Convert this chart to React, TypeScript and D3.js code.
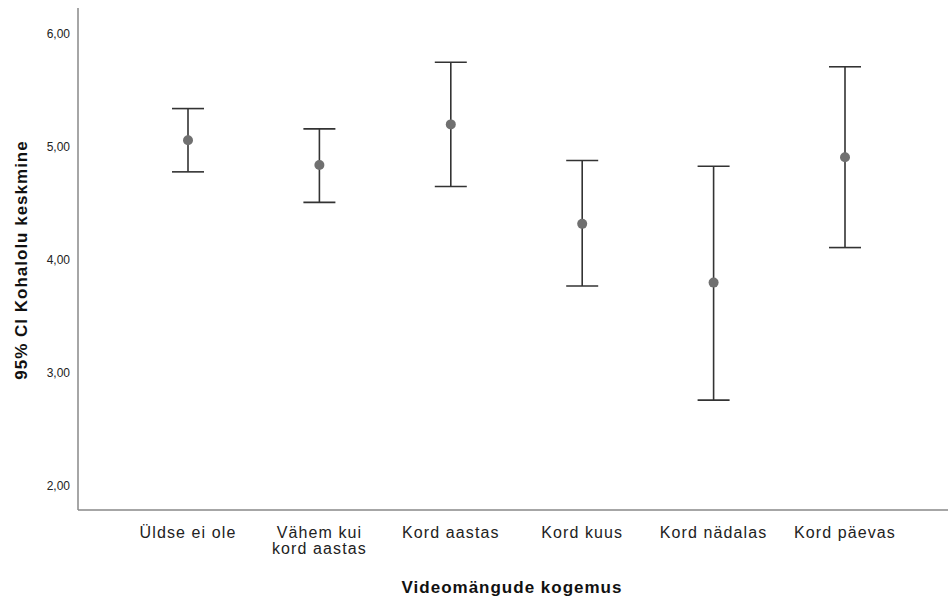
import React from 'react';
import * as d3 from 'd3';

const categories = ['Üldse ei ole', 'Vähem kui|kord aastas', 'Kord aastas', 'Kord kuus', 'Kord nädalas', 'Kord päevas'];
const means = [5.06, 4.84, 5.2, 4.32, 3.8, 4.91];
const upper = [5.34, 5.16, 5.75, 4.88, 4.83, 5.71];
const lower = [4.78, 4.51, 4.65, 3.77, 2.76, 4.11];
const yTicks = [2, 3, 4, 5, 6];

const width = 948;
const height = 603;
const axisX = 78;
const axisY = 510;

const App = () => {
  const x = d3.scalePoint<string>().domain(categories).range([188, 845]);
  const y = d3.scaleLinear().domain([2, 6]).range([486, 34]);
  const fmt = (v: number) => d3.format('.2f')(v).replace('.', ',');
  const cap = 16;

  return (
    <svg
      width={width}
      height={height}
      style={{ position: 'absolute', left: 0, top: 0, background: '#fff' }}
      fontFamily="'Liberation Sans', Arial, sans-serif"
    >
      {/* axes */}
      <line x1={axisX} x2={axisX} y1={8} y2={axisY} stroke="#888" strokeWidth={1.5} />
      <line x1={axisX} x2={width} y1={axisY} y2={axisY} stroke="#888" strokeWidth={1.5} />

      {yTicks.map(t => (
        <text key={t} x={70} y={y(t)} dy="0.35em" textAnchor="end" fontSize={12} fill="#222">
          {fmt(t)}
        </text>
      ))}

      {categories.map(c => (
        <text key={c} x={x(c)} y={538} textAnchor="middle" fontSize={16} letterSpacing={1.1} fill="#222">
          {c.split('|').map((line, i) => (
            <tspan key={i} x={x(c)} dy={i === 0 ? 0 : 16}>
              {line}
            </tspan>
          ))}
        </text>
      ))}

      {/* error bars */}
      {categories.map((c, i) => {
        const cx = x(c) as number;
        return (
          <g key={c} stroke="#333" strokeWidth={1.6}>
            <line x1={cx} x2={cx} y1={y(upper[i])} y2={y(lower[i])} />
            <line x1={cx - cap} x2={cx + cap} y1={y(upper[i])} y2={y(upper[i])} />
            <line x1={cx - cap} x2={cx + cap} y1={y(lower[i])} y2={y(lower[i])} />
            <circle cx={cx} cy={y(means[i])} r={5} fill="#707070" stroke="none" />
          </g>
        );
      })}

      <text x={512} y={593} textAnchor="middle" fontSize={17} letterSpacing={1} fontWeight="bold" fill="#111">
        Videomängude kogemus
      </text>
      <text
        transform={`translate(27,${260}) rotate(-90)`}
        textAnchor="middle"
        fontSize={17}
        letterSpacing={1}
        fontWeight="bold"
        fill="#111"
      >
        95% CI Kohalolu keskmine
      </text>
    </svg>
  );
};

export default App;
